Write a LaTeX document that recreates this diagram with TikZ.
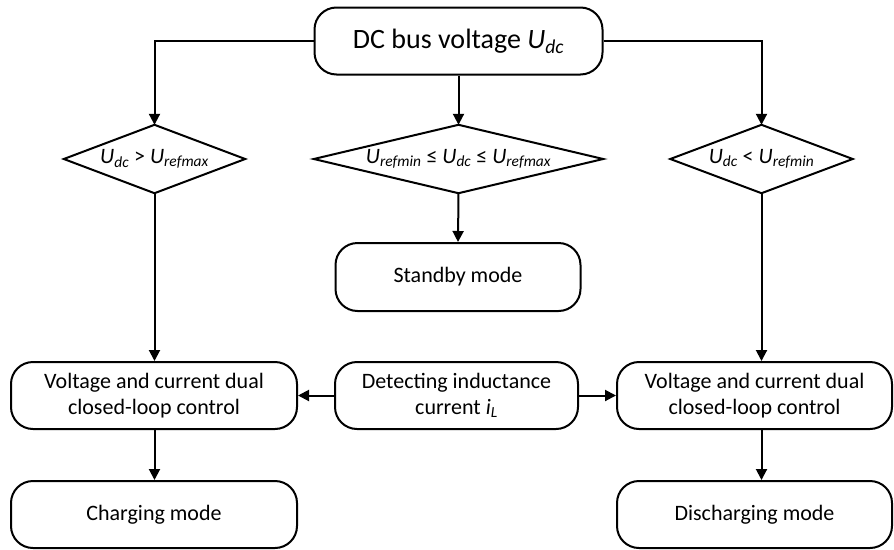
\documentclass[tikz,border=0pt]{standalone}
\usepackage{fontspec}
\setmainfont{Carlito}
\usetikzlibrary{arrows.meta}
\newcommand\Uv[1]{\textit{U\textsubscript{#1}}}
\begin{document}
\begin{tikzpicture}[x=1pt,y=-1pt,
  every node/.style={font=\fontsize{22}{26}\selectfont, align=center, inner sep=0pt},
  rbox/.style={draw, line width=2pt, rounded corners=22pt, minimum height=67pt},
  dbox/.style={rectangle, minimum height=68pt},
  dline/.style={line width=2pt, line join=miter},
  arr/.style={line width=2pt, -{Triangle[length=11pt,width=11pt]}}]
\useasboundingbox (0,0) rectangle (894,549);
\node[rbox, minimum width=288pt, font=\fontsize{28}{32}\selectfont] (top) at (458.5,41) {DC bus voltage \textit{U\textsubscript{dc}}};
\node[dbox, minimum width=181pt] (d1) at (154.5,159) {\Uv{dc} > \Uv{refmax}};
\node[dbox, minimum width=289pt] (d2) at (458.5,159) {\Uv{refmin} ≤ \Uv{dc} ≤ \Uv{refmax}};
\node[dbox, minimum width=182pt] (d3) at (761.5,159) {\Uv{dc} < \Uv{refmin}};
\foreach \d in {d1,d2,d3}
  \draw[dline] (\d.north) -- (\d.east) -- (\d.south) -- (\d.west) -- cycle;
\node[rbox, minimum width=245pt, minimum height=68pt] (sb) at (458,277) {Standby mode};
\node[rbox, minimum width=286pt] (lc) at (154,395.5) {Voltage and current dual\\closed-loop control};
\node[rbox, minimum width=243pt] (det) at (456.5,395.5) {Detecting inductance\\current \textit{i\textsubscript{L}}};
\node[rbox, minimum width=275pt] (rc) at (754.5,395.5) {Voltage and current dual\\closed-loop control};
\node[rbox, minimum width=286pt] (ch) at (154,514.5) {Charging mode};
\node[rbox, minimum width=275pt] (dis) at (754.5,514.5) {Discharging mode};
\draw[arr] (top.west) -| (d1.north);
\draw[arr] (top.south) -- (d2.north);
\draw[arr] (top.east) -| (d3.north);
\draw[arr] (d1.south) -- (d1.south |- lc.north);
\draw[arr] (d2.south) -- (sb.north);
\draw[arr] (d3.south) -- (d3.south |- rc.north);
\draw[arr] (d1.south |- lc.south) -- (d1.south |- ch.north);
\draw[arr] (d3.south |- rc.south) -- (d3.south |- dis.north);
\draw[arr] (det.west) -- (lc.east);
\draw[arr] (det.east) -- (rc.west);
\end{tikzpicture}
\end{document}
